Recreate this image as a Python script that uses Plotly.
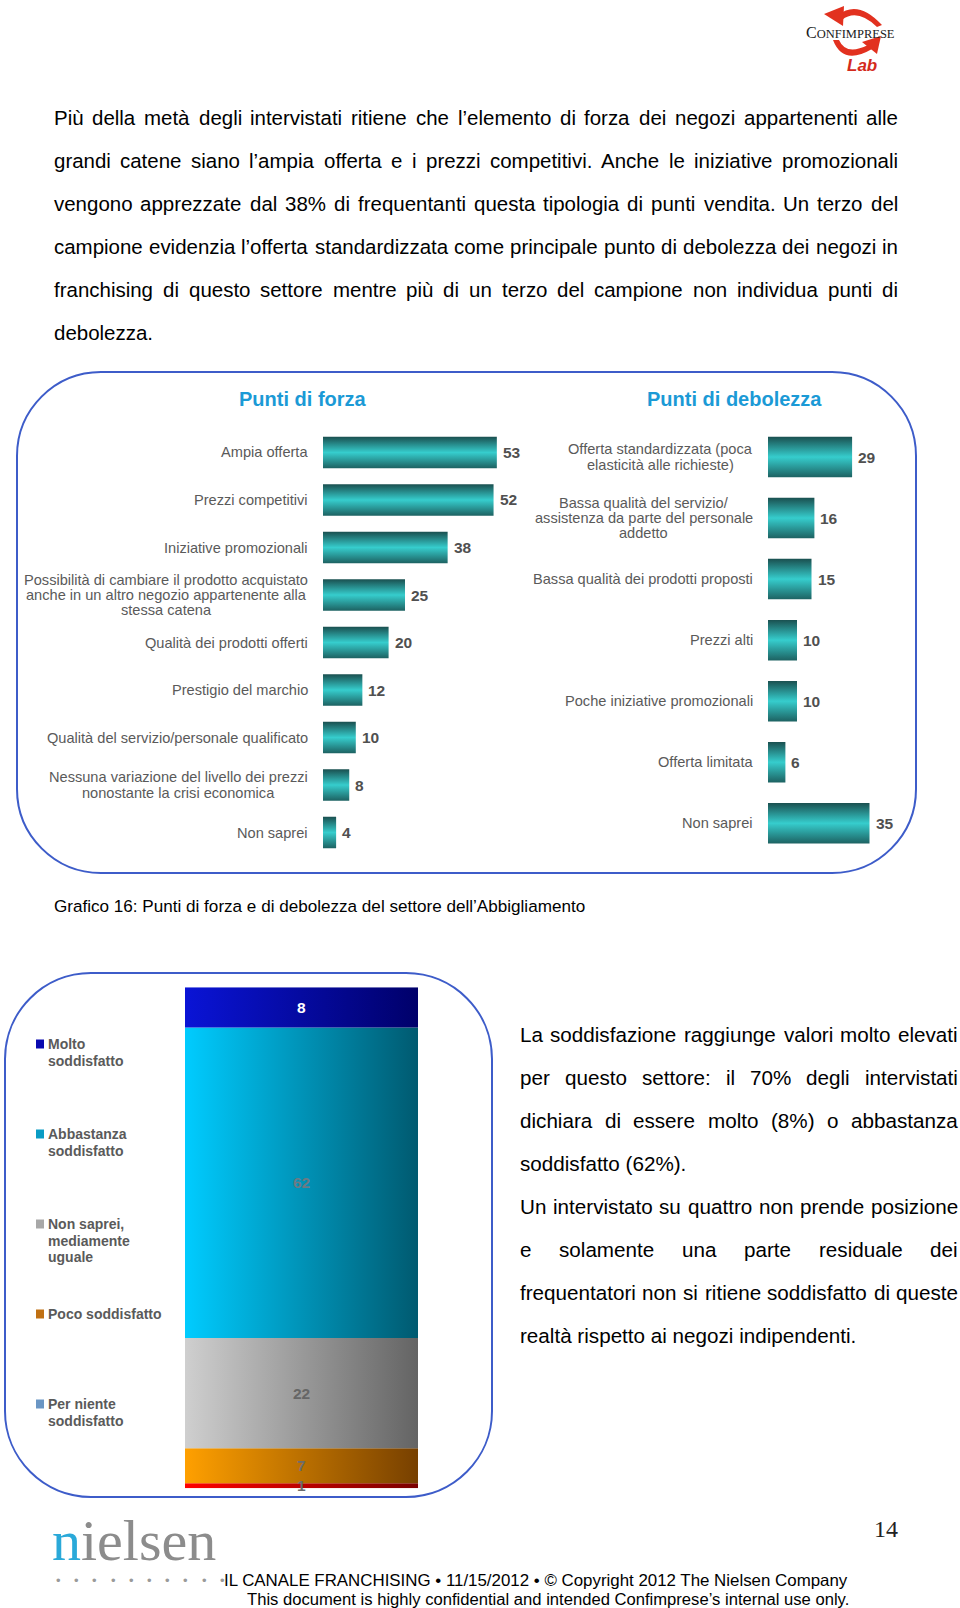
import plotly.graph_objects as go

W, H = 960, 1608

# ---- data ---------------------------------------------------------------
FORZA_LABELS = [
    "Ampia offerta",
    "Prezzi competitivi",
    "Iniziative promozionali",
    "Possibilità di cambiare il prodotto acquistato<br>anche in un altro negozio appartenente alla<br>stessa catena",
    "Qualità dei prodotti offerti",
    "Prestigio del marchio",
    "Qualità del servizio/personale qualificato",
    "Nessuna variazione del livello dei prezzi<br>nonostante la crisi economica",
    "Non saprei",
]
FORZA_VALUES = [53, 52, 38, 25, 20, 12, 10, 8, 4]

DEBOLEZZA_LABELS = [
    "Offerta standardizzata (poca<br>elasticità alle richieste)",
    "Bassa qualità del servizio/<br>assistenza da parte del personale<br>addetto",
    "Bassa qualità dei prodotti proposti",
    "Prezzi alti",
    "Poche iniziative promozionali",
    "Offerta limitata",
    "Non saprei",
]
DEBOLEZZA_VALUES = [29, 16, 15, 10, 10, 6, 35]

SODD_LABELS = [
    "Molto<br>soddisfatto",
    "Abbastanza<br>soddisfatto",
    "Non saprei,<br>mediamente<br>uguale",
    "Poco soddisfatto",
    "Per niente<br>soddisfatto",
]
SODD_VALUES = [8, 62, 22, 7, 1]

TESTO_TOP = [
    "Più della metà degli intervistati ritiene che l’elemento di forza dei negozi appartenenti alle",
    "grandi catene siano l’ampia offerta e i prezzi competitivi. Anche le iniziative promozionali",
    "vengono apprezzate dal 38% di frequentanti questa tipologia di punti vendita. Un terzo del",
    "campione evidenzia l’offerta standardizzata come principale punto di debolezza dei negozi in",
    "franchising di questo settore mentre più di un terzo del campione non individua punti di",
    "debolezza.",
]
TESTO_DX = [
    "La soddisfazione raggiunge valori molto elevati",
    "per questo settore: il 70% degli intervistati",
    "dichiara di essere molto (8%) o abbastanza",
    "soddisfatto (62%).",
    "Un intervistato su quattro non prende posizione",
    "e solamente una parte residuale dei",
    "frequentatori non si ritiene soddisfatto di queste",
    "realtà rispetto ai negozi indipendenti.",
]
TESTO_DX_LAST = [False, False, False, True, False, False, False, True]
CAPTION = "Grafico 16: Punti di forza e di debolezza del settore dell’Abbigliamento"
FOOTER_1 = "IL CANALE FRANCHISING • 11/15/2012 • © Copyright 2012 The Nielsen Company"
FOOTER_2 = "This document is highly confidential and intended Confimprese’s internal use only."

# ---- style --------------------------------------------------------------
SANS = "Liberation Sans, Arial, sans-serif"
SERIF = "Liberation Serif, Times New Roman, serif"
GREY = "#5a5a5a"
BOX = "#3d5cc9"
TEAL = [[0, "#1d6262"], [0.5, "#36cdcd"], [1, "#1a5050"]]
SODD_GRAD = [
    [[0, "#0a14d6"], [1, "#00006a"]],
    [[0, "#00ccff"], [1, "#005a70"]],
    [[0, "#cfcfcf"], [1, "#646464"]],
    [[0, "#ffa000"], [1, "#774000"]],
    [[0, "#ff0000"], [1, "#7a0000"]],
]
SWATCH = ["#0a0ab0", "#0a9cc4", "#a8a8a8", "#c07012", "#6a96c4"]
SODD_TEXT = ["white", "#6c7a84", "#666666", "#6c6c6c", "#6c6c6c"]
LABEL_SIZE = 14.6

# Arial / Liberation Sans metrics (1/1000 em), used to lay out text lines
_CW = {" ": 278, ".": 278, ",": 278, ":": 278, ";": 278, "(": 333, ")": 333,
       "%": 889, "’": 222, "'": 191, "/": 278, "-": 333, "à": 556, "è": 556,
       "é": 556, "ì": 278, "ò": 556, "ù": 556, "•": 350, "©": 737}
_CW.update(zip("abcdefghijklmnopqrstuvwxyz",
               [556, 556, 500, 556, 556, 278, 556, 556, 222, 222, 500, 222, 833,
                556, 556, 556, 556, 333, 500, 278, 556, 500, 722, 500, 500, 500]))
_CW.update(zip("ABCDEFGHIJKLMNOPQRSTUVWXYZ",
               [667, 667, 722, 722, 667, 611, 778, 722, 278, 500, 667, 556, 833,
                722, 778, 667, 778, 722, 667, 611, 722, 667, 944, 667, 667, 611]))
_CW.update({d: 556 for d in "0123456789"})


def text_width(s, size):
    return sum(_CW.get(c, 556) for c in s) / 1000 * size


def fit_size(s, width):
    return width / text_width(s, 1)


def px(x):
    return x / W


def py(y):
    return 1 - y / H


annotations = []
shapes = []


def ann(text, x, y, size, color="black", family=SANS, xanchor="left", **kw):
    annotations.append(dict(text=text, x=px(x), y=py(y), xref="paper", yref="paper",
                            xanchor=xanchor, yanchor="middle", showarrow=False,
                            borderpad=0, borderwidth=0,
                            font=dict(size=size, color=color, family=family), **kw))


def paragraph(lines, x0, x1, y0, step, size, last_flags=None):
    if last_flags is None:
        last_flags = [i == len(lines) - 1 for i in range(len(lines))]
    # never let a justified line run wider than the column
    for line, last in zip(lines, last_flags):
        if not last:
            size = min(size, fit_size(line, x1 - x0 - 4))
    for i, line in enumerate(lines):
        y = y0 + i * step
        words = line.split(" ")
        if last_flags[i] or len(words) == 1:
            ann(line, x0, y, size)
            continue
        widths = [text_width(w, size) for w in words]
        gap = (x1 - x0 - sum(widths)) / (len(words) - 1)
        x = x0
        for w, wd in zip(words, widths):
            ann(w, x, y, size)
            x += wd + gap


def path(points):
    out = []
    for cmd, *coords in points:
        pairs = [f"{px(coords[k]):.5f},{py(coords[k + 1]):.5f}" for k in range(0, len(coords), 2)]
        out.append(cmd + " " + " ".join(pairs))
    return " ".join(out) + " Z"


def rrect(x0, y0, x1, y1, r):
    k = r * 0.5523
    pts = [("M", x0 + r, y0), ("L", x1 - r, y0),
           ("C", x1 - r + k, y0, x1, y0 + r - k, x1, y0 + r), ("L", x1, y1 - r),
           ("C", x1, y1 - r + k, x1 - r + k, y1, x1 - r, y1), ("L", x0 + r, y1),
           ("C", x0 + r - k, y1, x0, y1 - r + k, x0, y1 - r), ("L", x0, y0 + r),
           ("C", x0, y0 + r - k, x0 + r - k, y0, x0 + r, y0)]
    return path(pts)


fig = go.Figure()


def hbar(value, pos, xa, ya, half):
    return go.Scatter(
        x=[0, value, value, 0, 0], y=[pos - half, pos - half, pos + half, pos + half, pos - half],
        xaxis=xa, yaxis=ya, mode="lines", line=dict(width=0), fill="toself",
        fillgradient=dict(type="vertical", colorscale=TEAL),
        hoverinfo="skip", showlegend=False)


def bar_chart(labels, values, xa, ya, half, label_gap=15, line_step=15.3):
    for i, (lab, v) in enumerate(zip(labels, values)):
        fig.add_trace(hbar(v, i, xa, ya, half))
        annotations.append(dict(text=f"<b>{v}</b>", x=v, y=i, xref=xa, yref=ya,
                                xanchor="left", yanchor="middle", xshift=4, showarrow=False,
                                font=dict(size=15.5, color="#505050", family=SANS)))
        lines = lab.split("<br>")
        maxw = max(text_width(s, LABEL_SIZE) for s in lines)
        for k, s in enumerate(lines):
            dy = ((len(lines) - 1) / 2 - k) * line_step
            annotations.append(dict(text=s, x=0, y=i, xref=xa, yref=ya,
                                    xanchor="center", yanchor="middle",
                                    xshift=-label_gap - maxw / 2, yshift=dy, showarrow=False,
                                    font=dict(size=LABEL_SIZE, color=GREY, family=SANS)))


bar_chart(FORZA_LABELS, FORZA_VALUES, "x", "y", 0.33)
bar_chart(DEBOLEZZA_LABELS, DEBOLEZZA_VALUES, "x2", "y2", 0.332)

# stacked satisfaction bar
base = 0
for i in reversed(range(len(SODD_VALUES))):
    v = SODD_VALUES[i]
    fig.add_trace(go.Scatter(
        x=[-0.5, 0.5, 0.5, -0.5, -0.5], y=[base, base, base + v, base + v, base],
        xaxis="x3", yaxis="y3", mode="lines", line=dict(width=0), fill="toself",
        fillgradient=dict(type="horizontal", colorscale=SODD_GRAD[i]),
        hoverinfo="skip", showlegend=False, name=SODD_LABELS[i].replace("<br>", " ")))
    annotations.append(dict(text=f"<b>{v}</b>", x=0, y=base + v / 2, xref="x3", yref="y3",
                            showarrow=False, xanchor="center", yanchor="middle",
                            font=dict(size=15.5, color=SODD_TEXT[i], family=SANS)))
    base += v

# custom legend
for i, lab in enumerate(SODD_LABELS):
    yc = 1044 + i * 90
    shapes.append(dict(type="rect", xref="paper", yref="paper", x0=px(36), x1=px(44),
                       y0=py(yc + 4.5), y1=py(yc - 4.5), fillcolor=SWATCH[i], line=dict(width=0)))
    for k, s in enumerate(lab.split("<br>")):
        ann(f"<b>{s}</b>", 48, yc + k * 16.5, 14, color=GREY)

# titles
ann("<b>Punti di forza</b>", 303, 399, 20, color="#1b9ad6", xanchor="center")
ann("<b>Punti di debolezza</b>", 734, 399, 20, color="#1b9ad6", xanchor="center")

# text blocks
paragraph(TESTO_TOP, 54, 898, 118, 42.8, 20.5)
ann(CAPTION, 54, 906, 17.1)
paragraph(TESTO_DX, 520, 958, 1034, 43, 22, TESTO_DX_LAST)

# rounded frames
shapes.append(dict(type="path", xref="paper", yref="paper", path=rrect(17, 372, 916, 873, 84),
                   line=dict(color=BOX, width=2)))
shapes.append(dict(type="path", xref="paper", yref="paper", path=rrect(5, 973, 492, 1497, 86),
                   line=dict(color=BOX, width=2)))

# Confimprese logo
RED = "#e2311f"
for pts in (
    [("M", 838, 15), ("Q", 858, -1, 882, 25), ("L", 877, 27), ("Q", 857, 8, 842, 20)],
    [("M", 824, 14), ("L", 844, 6), ("L", 843, 26)],
    [("M", 833, 40), ("Q", 843, 66, 872, 49), ("L", 868, 45), ("Q", 846, 56, 839, 40)],
    [("M", 862, 42), ("L", 881, 36), ("L", 877, 54)],
):
    shapes.append(dict(type="path", xref="paper", yref="paper", path=path(pts),
                       fillcolor=RED, line=dict(width=0)))
ann("C<span style='font-size:12.5px'>ONFIMPRESE</span>", 850, 32, 16, color="#1a1a1a",
    family=SERIF, xanchor="center")
ann("<b><i>Lab</i></b>", 862, 66, 17, color="#d42a1c", xanchor="center")

# footer
ann("<span style='color:#2aa9d9'>n</span>ielsen", 52, 1540, 58, color="#8c8c8c", family=SERIF)
for k in range(10):
    ann("•", 56 + k * 18.2, 1580, 13, color="#9a9a9a")
ann(FOOTER_1, 224, 1580, fit_size(FOOTER_1, 626))
ann(FOOTER_2, 849, 1599, fit_size(FOOTER_2, 604), xanchor="right")
ann("14", 886, 1529, 24, color="#222222", family=SERIF, xanchor="center")

hidden = dict(visible=False, fixedrange=True)
fig.update_layout(
    width=W, height=H, margin=dict(l=0, r=0, t=0, b=0),
    paper_bgcolor="white", plot_bgcolor="rgba(0,0,0,0)", showlegend=False,
    xaxis=dict(hidden, domain=[px(323), px(323 + 60 * 3.28)], range=[0, 60]),
    yaxis=dict(hidden, domain=[py(856.25), py(428.75)], range=[8.5, -0.5]),
    xaxis2=dict(hidden, domain=[px(768), px(768 + 50 * 2.9)], range=[0, 50]),
    yaxis2=dict(hidden, domain=[py(853.8), py(426.5)], range=[6.5, -0.5]),
    xaxis3=dict(hidden, domain=[px(185), px(418)], range=[-0.5, 0.5]),
    yaxis3=dict(hidden, domain=[py(1488.3), py(987.3)], range=[0, 100]),
    annotations=annotations, shapes=shapes,
)

fig.write_html("out.html", config={"displayModeBar": False},
               post_script="document.body.style.margin='0';")
